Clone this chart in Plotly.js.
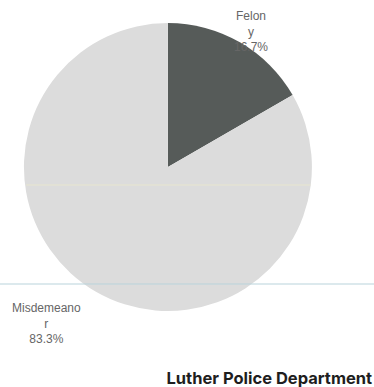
<!DOCTYPE html>
<html>
<head>
<meta charset="utf-8">
<script src="https://cdn.plot.ly/plotly-3.0.1.min.js"></script>
<style>html,body{margin:0;padding:0;background:#fff;}#chart{width:374px;height:387px;}</style>
</head>
<body>
<div id="chart"></div>
<script>
const categories = ["Felony", "Misdemeanor"];
const counts = [1, 5];
const sliceColors = ["#565b59", "#dcdcdc"];
const chartTitle = "Luther Police Department";

const total = counts.reduce((a, b) => a + b, 0);
const wrap = s => s.slice(0, -1) + "<br>" + s.slice(-1);
const pct = v => (100 * v / total).toFixed(1) + "%";

const labelPos = [
  {x: 0.672, y: 0.919},
  {x: 0.124, y: 0.163}
];

const annotations = categories.map((c, i) => ({
  xref: "paper", yref: "paper",
  x: labelPos[i].x, y: labelPos[i].y,
  xanchor: "center", yanchor: "middle",
  text: wrap(c) + "<br>" + pct(counts[i]),
  showarrow: false,
  font: {family: "Liberation Sans, Arial, sans-serif", size: 12, color: "#666666"},
  align: "center"
}));

const data = [{
  type: "pie",
  labels: categories,
  values: counts,
  sort: false,
  direction: "clockwise",
  rotation: 0,
  textinfo: "none",
  hoverinfo: "label+percent",
  marker: {colors: sliceColors, line: {width: 0}},
  domain: {x: [0.064, 0.834], y: [0.196, 0.941]},
  showlegend: false
}];

const layout = {
  width: 374, height: 387,
  margin: {l: 0, r: 0, t: 0, b: 0},
  paper_bgcolor: "#ffffff",
  showlegend: false,
  title: {
    text: "<b>" + chartTitle + "</b>",
    x: 0.995, xanchor: "right", xref: "paper",
    y: 0.022, yanchor: "middle", yref: "paper",
    font: {family: "Inter, Lato, sans-serif", size: 16.5, color: "#1e1e1e"}
  },
  annotations: annotations,
  shapes: [
    {type: "line", xref: "paper", yref: "paper", x0: 0.07, x1: 0.83, y0: 1 - 185/387, y1: 1 - 185/387, line: {color: "#e8e6cf", width: 1}, layer: "above"},
    {type: "line", xref: "paper", yref: "paper", x0: 0, x1: 1, y0: 1 - 284/387, y1: 1 - 284/387, line: {color: "#b9d3db", width: 1}, layer: "above"}
  ]
};

Plotly.newPlot("chart", data, layout, {displayModeBar: false, staticPlot: true});
</script>
</body>
</html>
